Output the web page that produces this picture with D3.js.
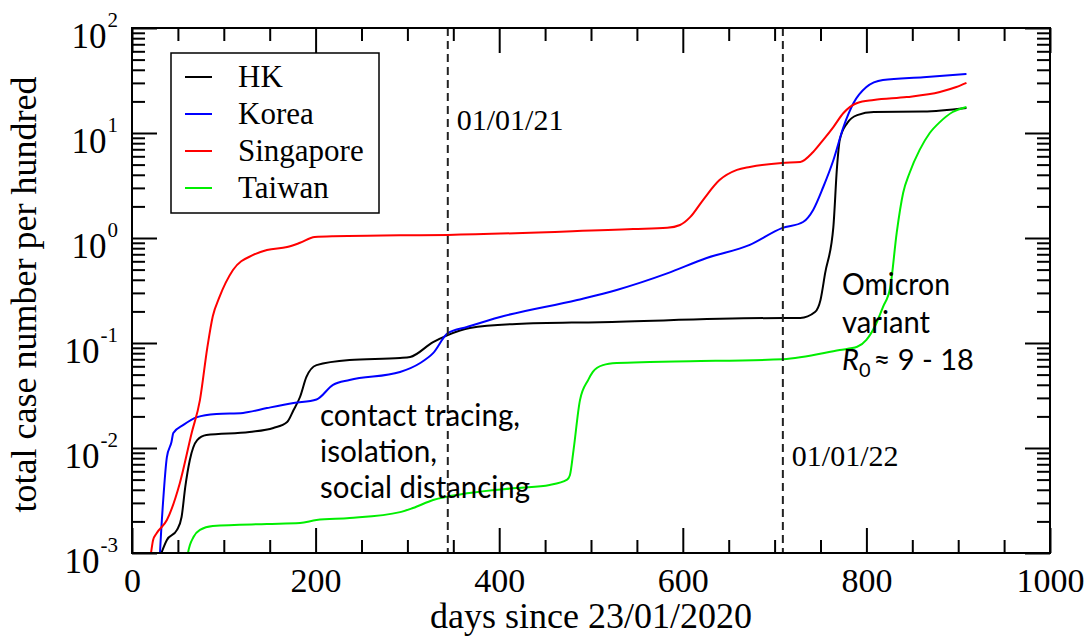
<!DOCTYPE html>
<html>
<head>
<meta charset="utf-8">
<script src="https://cdn.jsdelivr.net/npm/d3@7"></script>
<style>
  html, body { margin: 0; padding: 0; background: #fff; }
  svg { display: block; }
  .serif { font-family: "Liberation Serif", "Times New Roman", serif; fill: #000; }
  .sans { font-family: Lato, "Open Sans", sans-serif; fill: #000; }
</style>
</head>
<body>
<svg id="chart" width="1090" height="637"></svg>
<script>
// Cumulative cases per hundred people, by days since 23/01/2020
const hkDays = [28, 32, 38, 49, 54, 58, 63, 71, 81, 128, 154, 169, 176, 183, 190, 201, 237, 292, 303, 328, 344, 368, 419, 510, 709, 728, 744, 750, 755, 764, 768, 771, 779, 790, 808, 862, 909];
const hkValues = [0.0008, 0.001, 0.00133, 0.00166, 0.0022, 0.00425, 0.0077, 0.0119, 0.0133, 0.0142, 0.0155, 0.0177, 0.023, 0.0306, 0.0475, 0.0616, 0.069, 0.072, 0.0736, 0.102, 0.119, 0.139, 0.152, 0.158, 0.173, 0.173, 0.197, 0.257, 0.46, 1.27, 4.75, 8.6, 12.4, 14.8, 15.85, 16, 17.3];

const koreaDays = [29, 30.5, 34, 38, 43, 45, 56, 71, 92, 121, 147, 176, 201, 219, 237, 292, 314, 328, 344, 365, 401, 485, 528, 583, 626, 673, 708, 731, 742, 753, 764, 775, 786, 800, 818, 862, 909];
const koreaValues = [0.0005, 0.001, 0.0032, 0.0082, 0.0114, 0.0139, 0.0166, 0.0197, 0.0211, 0.0216, 0.024, 0.0268, 0.029, 0.04, 0.0445, 0.053, 0.0645, 0.08, 0.124, 0.142, 0.177, 0.257, 0.32, 0.46, 0.645, 0.86, 1.24, 1.42, 1.85, 3.06, 5.5, 11.4, 19.3, 27.4, 32, 34, 36.5];

const singaporeDays = [18, 20.7, 23, 27, 38, 52, 65, 74, 82, 88, 95, 110, 132, 147, 169, 183, 199, 219, 292, 344, 546, 583, 597, 608, 622, 640, 659, 673, 708, 728, 742, 753, 764, 775, 790, 808, 844, 880, 898, 909];
const singaporeValues = [0.0007, 0.001, 0.00133, 0.00155, 0.00206, 0.0046, 0.0139, 0.0286, 0.09, 0.18, 0.27, 0.495, 0.69, 0.77, 0.82, 0.9, 1.02, 1.04, 1.06, 1.07, 1.22, 1.25, 1.33, 1.58, 2.3, 3.56, 4.45, 4.75, 5.18, 5.3, 6.6, 8.6, 11.4, 15.5, 19.3, 20.6, 22, 24.6, 27.4, 30];

const taiwanDays = [59, 61, 67, 74, 88, 147, 183, 201, 237, 292, 306, 328, 365, 419, 455, 474, 477, 481, 488, 497, 502, 513, 528, 564, 608, 709, 771, 790, 800, 811, 818, 826, 833, 840, 847, 858, 869, 880, 894, 909];
const taiwanValues = [0.0007, 0.001, 0.00142, 0.00166, 0.00181, 0.00189, 0.00193, 0.00206, 0.00215, 0.00245, 0.00268, 0.0032, 0.0037, 0.00416, 0.00445, 0.005, 0.0055, 0.0096, 0.0286, 0.0445, 0.053, 0.0616, 0.0645, 0.066, 0.067, 0.07, 0.0857, 0.092, 0.107, 0.155, 0.22, 0.34, 1.12, 2.68, 4.16, 6.9, 10, 12.7, 15.85, 17.7];

const seriesNames = ["HK", "Korea", "Singapore", "Taiwan"];
const seriesColors = ["#000000", "#0000ff", "#ff0000", "#00ee00"];
const seriesDays = [hkDays, koreaDays, singaporeDays, taiwanDays];
const seriesValues = [hkValues, koreaValues, singaporeValues, taiwanValues];

const xMajorTicks = [0, 200, 400, 600, 800, 1000];
const xMinorTicks = d3.range(0, 1001, 50).filter(v => v % 200 !== 0);
const yMajorExponents = [-3, -2, -1, 0, 1, 2];

// Reference dates marked as vertical dashed lines
const markerDays = [344, 709];
const markerLabels = ["01/01/21", "01/01/22"];

const annotationTracing = ["contact tracing,", "isolation,", "social distancing"];
const annotationOmicron = ["Omicron", "variant"];

const xTitle = "days since 23/01/2020";
const yTitle = "total case number per hundred";

// ---- layout ----
const plot = { left: 132, right: 1050, top: 28, bottom: 553 };
const svg = d3.select("#chart");

const x = d3.scaleLinear().domain([0, 1000]).range([plot.left, plot.right]);
const y = d3.scaleLog().domain([1e-3, 1e2]).range([plot.bottom, plot.top]);

const yMajorTicks = yMajorExponents.map(e => Math.pow(10, e));
const yMinorTicks = [];
yMajorExponents.slice(0, -1).forEach(e => {
  for (let m = 2; m <= 9; m++) yMinorTicks.push(m * Math.pow(10, e));
});

// clip for the data lines
svg.append("defs").append("clipPath").attr("id", "plot-clip")
  .append("rect")
  .attr("x", plot.left).attr("y", plot.top)
  .attr("width", plot.right - plot.left).attr("height", plot.bottom - plot.top);

// ---- data lines ----
const line = d3.line()
  .x(d => x(d[0]))
  .y(d => y(d[1]))
  .curve(d3.curveMonotoneX);

const lines = svg.append("g").attr("clip-path", "url(#plot-clip)");
seriesNames.forEach((name, i) => {
  const pts = seriesDays[i].map((d, j) => [d, seriesValues[i][j]]);
  lines.append("path")
    .datum(pts)
    .attr("fill", "none")
    .attr("stroke", seriesColors[i])
    .attr("stroke-width", 2)
    .attr("stroke-linejoin", "round")
    .attr("d", line);
});

// ---- dashed date markers ----
markerDays.forEach(d => {
  svg.append("line")
    .attr("x1", x(d)).attr("x2", x(d))
    .attr("y1", y(1e2)).attr("y2", y(1e-3))
    .attr("stroke", "#222")
    .attr("stroke-width", 2)
    .attr("stroke-dasharray", "8,5");
});
svg.append("text").attr("class", "serif")
  .attr("x", x(markerDays[0]) + 9).attr("y", 130)
  .attr("font-size", 30).text(markerLabels[0]);
svg.append("text").attr("class", "serif")
  .attr("x", x(markerDays[1]) + 9).attr("y", 466)
  .attr("font-size", 30).text(markerLabels[1]);

// ---- axes (ticks pointing inward on all four sides) ----
function styleAxis(g) {
  g.select(".domain").remove();
  g.selectAll(".tick line").attr("stroke", "#000").attr("stroke-width", 2);
}

// bottom
svg.append("g").attr("transform", `translate(0,${plot.bottom})`)
  .call(d3.axisBottom(x).tickValues(xMinorTicks).tickSize(-13).tickFormat(""))
  .call(styleAxis);
const xAxisMajor = svg.append("g").attr("transform", `translate(0,${plot.bottom})`)
  .call(d3.axisBottom(x).tickValues(xMajorTicks).tickSize(-25).tickPadding(15).tickFormat(d3.format("d")))
  .call(styleAxis);
xAxisMajor.selectAll(".tick text")
  .attr("class", "serif")
  .attr("font-size", 34)
  .attr("fill", "#000");

// top
svg.append("g").attr("transform", `translate(0,${plot.top})`)
  .call(d3.axisTop(x).tickValues(xMinorTicks).tickSize(-13).tickFormat(""))
  .call(styleAxis);
svg.append("g").attr("transform", `translate(0,${plot.top})`)
  .call(d3.axisTop(x).tickValues(xMajorTicks).tickSize(-25).tickFormat(""))
  .call(styleAxis);

// left
svg.append("g").attr("transform", `translate(${plot.left},0)`)
  .call(d3.axisLeft(y).tickValues(yMinorTicks).tickSize(-13).tickFormat(""))
  .call(styleAxis);
svg.append("g").attr("transform", `translate(${plot.left},0)`)
  .call(d3.axisLeft(y).tickValues(yMajorTicks).tickSize(-25).tickFormat(""))
  .call(styleAxis);

// right
svg.append("g").attr("transform", `translate(${plot.right},0)`)
  .call(d3.axisRight(y).tickValues(yMinorTicks).tickSize(-13).tickFormat(""))
  .call(styleAxis);
svg.append("g").attr("transform", `translate(${plot.right},0)`)
  .call(d3.axisRight(y).tickValues(yMajorTicks).tickSize(-25).tickFormat(""))
  .call(styleAxis);

// y tick labels as powers of ten
yMajorExponents.forEach(e => {
  const t = svg.append("text").attr("class", "serif")
    .attr("x", plot.left - 14)
    .attr("y", y(Math.pow(10, e)) + 20)
    .attr("text-anchor", "end");
  t.append("tspan").attr("font-size", 35).text("10");
  t.append("tspan").attr("font-size", 21).attr("dy", -21).attr("dx", 1).text(String(e));
});

// frame
svg.append("rect")
  .attr("x", plot.left).attr("y", plot.top)
  .attr("width", plot.right - plot.left).attr("height", plot.bottom - plot.top)
  .attr("fill", "none").attr("stroke", "#000").attr("stroke-width", 2);

// axis titles
svg.append("text").attr("class", "serif")
  .attr("x", (plot.left + plot.right) / 2).attr("y", 628)
  .attr("text-anchor", "middle").attr("font-size", 36)
  .text(xTitle);
svg.append("text").attr("class", "serif")
  .attr("transform", `translate(36,${(plot.top + plot.bottom) / 2 + 4}) rotate(-90)`)
  .attr("text-anchor", "middle").attr("font-size", 36)
  .text(yTitle);

// ---- legend ----
const legend = svg.append("g");
legend.append("rect")
  .attr("x", 171).attr("y", 53).attr("width", 208).attr("height", 160)
  .attr("fill", "#fff").attr("stroke", "#000").attr("stroke-width", 1.5);
seriesNames.forEach((name, i) => {
  const ly = 77 + i * 37;
  legend.append("line")
    .attr("x1", 185).attr("x2", 212).attr("y1", ly).attr("y2", ly)
    .attr("stroke", seriesColors[i]).attr("stroke-width", 2);
  legend.append("text").attr("class", "serif")
    .attr("x", 238).attr("y", ly + 10)
    .attr("font-size", 31).text(name);
});

// ---- annotations ----
const tracingWidths = [200, 117, 210];
annotationTracing.forEach((s, i) => {
  svg.append("text").attr("class", "sans")
    .attr("x", 320).attr("y", 426 + i * 36)
    .attr("font-size", 30)
    .attr("textLength", tracingWidths[i]).attr("lengthAdjust", "spacingAndGlyphs")
    .text(s);
});
const omicronWidths = [108, 88];
annotationOmicron.forEach((s, i) => {
  svg.append("text").attr("class", "sans")
    .attr("x", 842).attr("y", 295 + i * 38)
    .attr("font-size", 30)
    .attr("textLength", omicronWidths[i]).attr("lengthAdjust", "spacingAndGlyphs")
    .text(s);
});
const r0 = svg.append("text").attr("class", "sans")
  .attr("x", 842).attr("y", 370).attr("font-size", 29);
r0.append("tspan").attr("font-style", "italic").text("R");
r0.append("tspan").attr("font-size", 20).attr("dy", 7).text("0");
r0.append("tspan").attr("dy", -7).attr("dx", 3).text("≈ 9 - 18");
</script>
</body>
</html>
